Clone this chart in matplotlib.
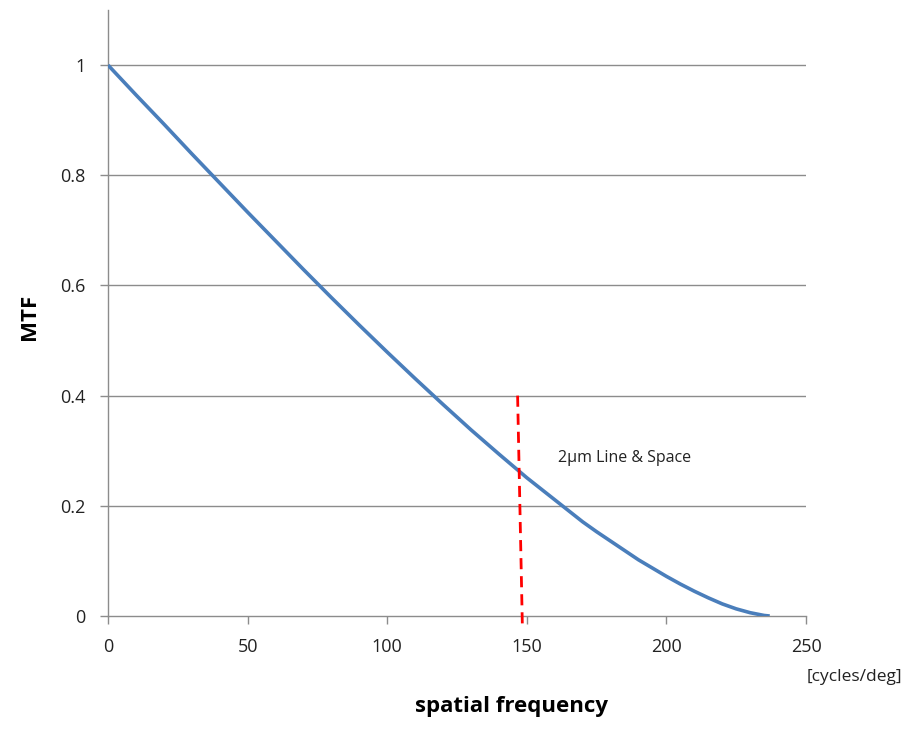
import matplotlib

matplotlib.use("Agg")
import matplotlib.pyplot as plt

# MTF curve (cycles/deg vs MTF)
freq = [0, 10, 20, 30, 40, 50, 60, 70, 80, 90, 100, 110, 120, 130, 140,
        150, 160, 165, 170, 175, 180, 185, 190, 195, 200, 205, 210, 215,
        220, 225, 230, 233, 235, 237]
mtf = [1.0, 0.946, 0.893, 0.839, 0.786, 0.733, 0.681, 0.629, 0.578, 0.528,
       0.479, 0.431, 0.384, 0.338, 0.294, 0.251, 0.211, 0.191, 0.171, 0.153,
       0.136, 0.119, 0.102, 0.087, 0.072, 0.058, 0.045, 0.033, 0.022, 0.013,
       0.006, 0.003, 0.001, 0.0]

# 2 um line & space marker (slightly slanted dashed line)
marker_x = [146.7, 148.4]
marker_y = [0.40, -0.016]
marker_label = "2\u00b5m Line & Space"

xticks = [0, 50, 100, 150, 200, 250]
yticks = [0, 0.2, 0.4, 0.6, 0.8, 1.0]
ytick_labels = ["0", "0.2", "0.4", "0.6", "0.8", "1"]

plt.rcParams["font.family"] = ["Open Sans", "DejaVu Sans"]

fig = plt.figure(figsize=(9.04, 7.31), dpi=100)
ax = fig.add_axes([0.1195, 0.1573, 0.7721, 0.829])

grid_color = "#8c8c8c"
for y in yticks[1:]:
    ax.axhline(y, color=grid_color, lw=1.0, zorder=1)

ax.plot(freq, mtf, color="#4a7ebb", lw=2.6, zorder=3, solid_capstyle="butt",
        solid_joinstyle="round")
ax.plot(marker_x, marker_y, color="#ff0000", lw=2.0, ls=(0, (4, 2.5)),
        zorder=4, clip_on=False)
ax.text(161.2, 0.287, marker_label, fontsize=11.5, va="center", ha="left",
        color="#222222")

ax.set_xlim(0, 250)
ax.set_ylim(0, 1.1)
ax.set_xticks(xticks)
ax.set_xticklabels([str(t) for t in xticks])
ax.set_yticks(yticks)
ax.set_yticklabels(ytick_labels)

for side in ("top", "right"):
    ax.spines[side].set_visible(False)
for side in ("left", "bottom"):
    ax.spines[side].set_color(grid_color)
    ax.spines[side].set_linewidth(1.0)

ax.tick_params(axis="both", colors=grid_color, labelcolor="#222222",
               labelsize=13, length=6, width=1.0, direction="out")
ax.tick_params(axis="x", pad=10)
ax.tick_params(axis="y", pad=10)

fig.text(0.033, 0.567, "MTF", fontsize=16, fontweight="bold", rotation=90,
         ha="center", va="center")
fig.text(0.5653, 0.019, "spatial frequency", fontsize=16, fontweight="bold",
         ha="center", va="bottom")
fig.text(0.9985, 0.074, "[cycles/deg]", fontsize=12.5, ha="right",
         va="center", color="#222222")

fig.savefig("out.png", dpi=100)
